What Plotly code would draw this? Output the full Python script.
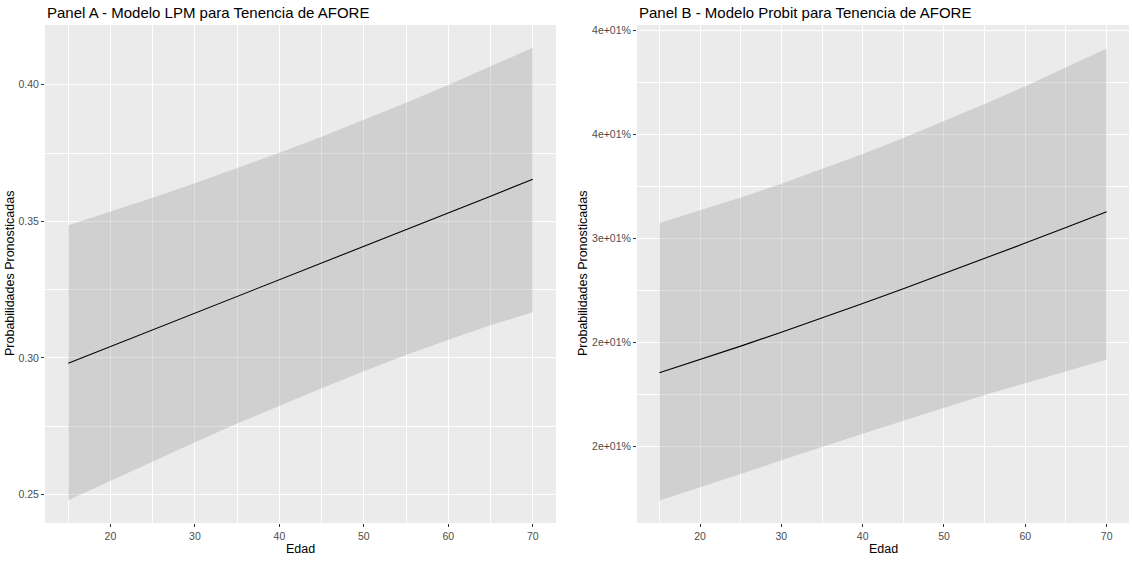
import plotly.graph_objects as go

# Predicted probabilities by age, with 95% confidence bands
edad = [15, 20, 25, 30, 35, 40, 45, 50, 55, 60, 65, 70]

lpm_fit = [0.2980, 0.3041, 0.3102, 0.3164, 0.3225, 0.3286, 0.3347, 0.3409, 0.3470, 0.3531, 0.3592, 0.3654]
lpm_lo = [0.2478, 0.2550, 0.2621, 0.2691, 0.2759, 0.2825, 0.2889, 0.2951, 0.3010, 0.3066, 0.3119, 0.3167]
lpm_hi = [0.3486, 0.3535, 0.3586, 0.3639, 0.3694, 0.3751, 0.3810, 0.3871, 0.3934, 0.3999, 0.4066, 0.4136]

probit_fit = [0.2354, 0.2417, 0.2482, 0.2549, 0.2617, 0.2687, 0.2758, 0.2830, 0.2903, 0.2977, 0.3052, 0.3128]
probit_lo = [0.1740, 0.1802, 0.1867, 0.1933, 0.1998, 0.2061, 0.2123, 0.2186, 0.2247, 0.2304, 0.2361, 0.2418]
probit_hi = [0.3073, 0.3133, 0.3196, 0.3262, 0.3332, 0.3405, 0.3482, 0.3562, 0.3645, 0.3731, 0.3820, 0.3912]

x_ticks = [20, 30, 40, 50, 60, 70]
x_minor = [15, 25, 35, 45, 55, 65]
lpm_yticks = [0.25, 0.30, 0.35, 0.40]
lpm_yticktext = ["0.25", "0.30", "0.35", "0.40"]
lpm_yminor = [0.275, 0.325, 0.375]
probit_yticks = [0.20, 0.25, 0.30, 0.35, 0.40]
probit_yticktext = ["2e+01%", "2e+01%", "3e+01%", "4e+01%", "4e+01%"]
probit_yminor = [0.225, 0.275, 0.325, 0.375]

W, H = 1132, 561
FONT = "Liberation Sans, Arial, sans-serif"
BAND = "rgba(153,153,153,0.32)"

fig = go.Figure()


def add_panel(fit, lo, hi, xa, ya):
    fig.add_trace(go.Scatter(x=edad, y=lo, mode="lines", line=dict(width=0),
                             xaxis=xa, yaxis=ya, showlegend=False, hoverinfo="skip"))
    fig.add_trace(go.Scatter(x=edad, y=hi, mode="lines", line=dict(width=0),
                             fill="tonexty", fillcolor=BAND,
                             xaxis=xa, yaxis=ya, showlegend=False, hoverinfo="skip"))
    fig.add_trace(go.Scatter(x=edad, y=fit, mode="lines", line=dict(color="black", width=1.1),
                             xaxis=xa, yaxis=ya, showlegend=False))


add_panel(lpm_fit, lpm_lo, lpm_hi, "x", "y")
add_panel(probit_fit, probit_lo, probit_hi, "x2", "y2")

tickfont = dict(family=FONT, size=10.5, color="#4D4D4D")
common_x = dict(range=[12.25, 72.75], tickvals=x_ticks, ticks="outside", ticklen=3,
                tickcolor="#333333", tickwidth=1, tickfont=tickfont,
                showgrid=True, gridcolor="white", gridwidth=1.1, zeroline=False,
                showline=False,
                minor=dict(tickvals=x_minor, showgrid=True, gridcolor="white", gridwidth=0.6, ticks=""))


def yaxis_cfg(rng, vals, text, minor):
    return dict(range=rng, tickvals=vals, ticktext=text, ticks="outside", ticklen=3,
                tickcolor="#333333", tickwidth=1, tickfont=tickfont,
                showgrid=True, gridcolor="white", gridwidth=1.1, zeroline=False,
                showline=False,
                minor=dict(tickvals=minor, showgrid=True, gridcolor="white", gridwidth=0.6, ticks=""),
                domain=[1 - 523 / H, 1 - 25 / H])


fig.update_layout(
    width=W, height=H,
    margin=dict(l=0, r=0, t=0, b=0),
    paper_bgcolor="white",
    plot_bgcolor="#EBEBEB",
    font=dict(family=FONT),
    xaxis=dict(common_x, domain=[45 / W, 556 / W], anchor="y"),
    yaxis=dict(yaxis_cfg([0.2395, 0.4219], lpm_yticks, lpm_yticktext, lpm_yminor), anchor="x"),
    xaxis2=dict(common_x, domain=[637 / W, 1129 / W], anchor="y2"),
    yaxis2=dict(yaxis_cfg([0.1632, 0.4025], probit_yticks, probit_yticktext, probit_yminor), anchor="x2"),
)

title_font = dict(family=FONT, size=15, color="black")
axis_title_font = dict(family=FONT, size=12.5, color="black")
annotations = [
    dict(text="Panel A - Modelo LPM para Tenencia de AFORE", x=45 / W, y=1 - 12.5 / H,
         xanchor="left", yanchor="middle", font=title_font),
    dict(text="Panel B - Modelo Probit para Tenencia de AFORE", x=637 / W, y=1 - 12.5 / H,
         xanchor="left", yanchor="middle", font=title_font),
    dict(text="Edad", x=(45 + 556) / 2 / W, y=1 - 549 / H,
         xanchor="center", yanchor="middle", font=axis_title_font),
    dict(text="Edad", x=(637 + 1129) / 2 / W, y=1 - 549 / H,
         xanchor="center", yanchor="middle", font=axis_title_font),
    dict(text="Probabilidades Pronosticadas", x=10 / W, y=1 - 274 / H, textangle=-90,
         xanchor="center", yanchor="middle", font=axis_title_font),
    dict(text="Probabilidades Pronosticadas", x=583 / W, y=1 - 274 / H, textangle=-90,
         xanchor="center", yanchor="middle", font=axis_title_font),
]
for a in annotations:
    a.update(xref="paper", yref="paper", showarrow=False)
fig.update_layout(annotations=annotations)

fig.write_html("out.html")
